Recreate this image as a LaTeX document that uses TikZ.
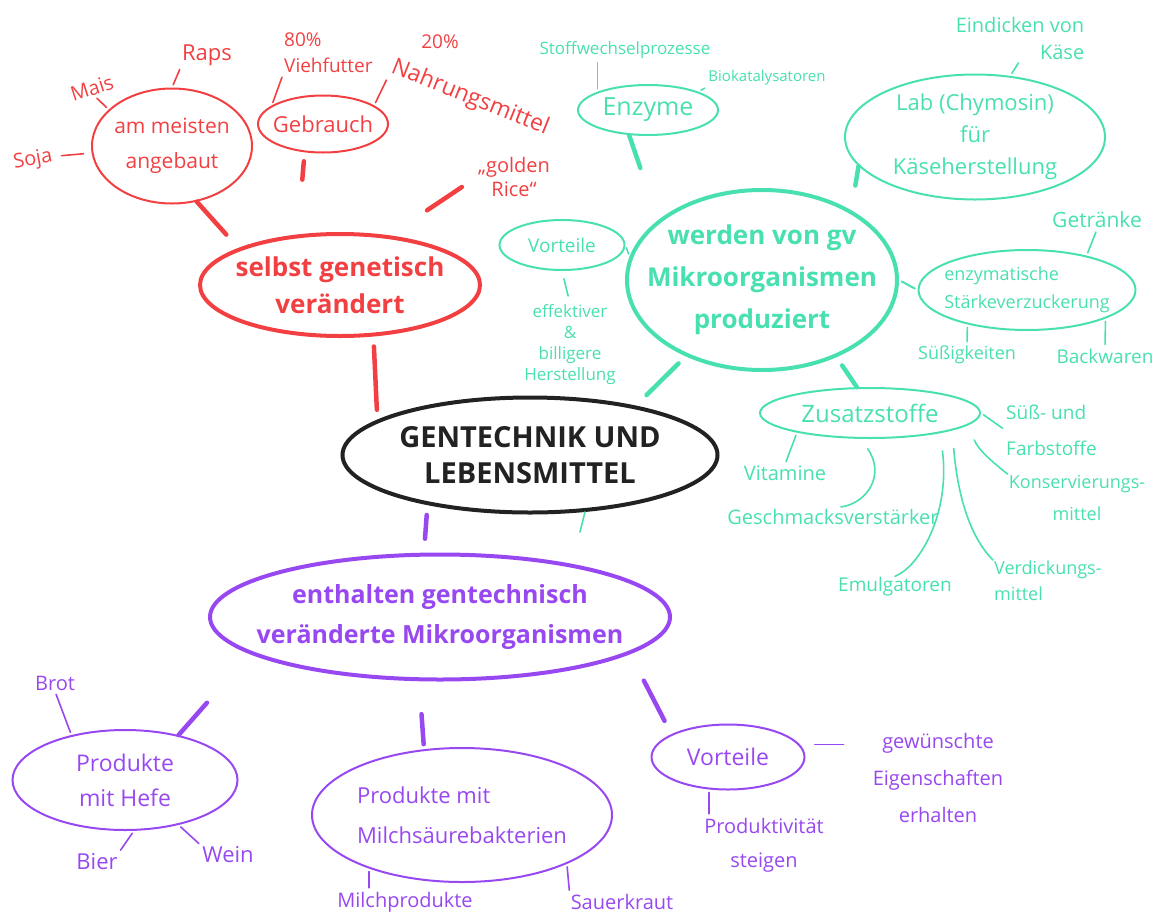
\documentclass[tikz,border=0pt]{standalone}
\usepackage{fontspec}
\setmainfont{Open Sans}
\usetikzlibrary{shapes.geometric}
\definecolor{cR}{RGB}{242,64,66}
\definecolor{cG}{RGB}{72,224,176}
\definecolor{cP}{RGB}{152,72,240}
\definecolor{cK}{RGB}{34,34,34}
\begin{document}
\begin{tikzpicture}[x=1pt,y=-1pt,
  ell/.style={ellipse,draw,inner sep=0pt},
  fs/.style 2 args={font=\fontsize{#1}{#2}\selectfont},
  fsb/.style 2 args={font=\fontsize{#1}{#2}\selectfont\bfseries},
  lbl/.style={inner sep=1pt,align=center},
  mainell/.style={ell,line width=4pt},
  subell/.style={ell,line width=2pt},
  conn/.style={line width=4.5pt,line cap=round},
  tick/.style={line width=1.6pt,line cap=round},
  tk/.style={tick,shorten <=3pt,shorten >=3pt}]
\useasboundingbox (0,0) rectangle (1164,916);

% central
\node[mainell,draw=cK,minimum width=375pt,minimum height=115pt] (c) at (530,455) {};
\node[lbl,text=cK,fsb={29}{36}] (ct) at (c) {GENTECHNIK UND\\LEBENSMITTEL};

% red branch
\node[mainell,draw=cR,minimum width=280pt,minimum height=102pt] (rm) at (340,285) {};
\node[lbl,text=cR,fsb={26}{37}] (rmt) at (rm) {selbst genetisch\\verändert};
\node[subell,draw=cR,minimum width=160pt,minimum height=115pt] (am) at (172,146) {};
\node[lbl,text=cR,fs={21}{35}] (amt) at (am) {am meisten\\angebaut};
\node[subell,draw=cR,minimum width=130pt,minimum height=57pt] (gb) at (323,124) {};
\node[lbl,text=cR,fs={22}{26}] (gbt) at (gb) {Gebrauch};
\node[lbl,text=cR,fs={20}{24},rotate=18] (mais) at (92,88) {Mais};
\node[lbl,text=cR,fs={22}{26}] (raps) at (207,55) {Raps};
\node[lbl,text=cR,fs={20}{24},rotate=10] (soja) at (33,160) {Soja};
\node[lbl,text=cR,fs={19}{26},align=left,anchor=north west] (vf) at (283,32) {80\%\\Viehfutter};
\node[lbl,text=cR,fs={19}{24}] (p20) at (440,42) {20\%};
\node[lbl,text=cR,fs={23}{27},rotate=-22,inner sep=0pt] (nm) at (470,98) {Nahrungsmittel};
\node[lbl,text=cR,fs={20}{24}] (gr) at (514,177) {„golden\\Rice“};

% green branch
\node[mainell,draw=cG,minimum width=270pt,minimum height=180pt] (gm) at (762,280) {};
\node[lbl,text=cG,fsb={26}{42}] (gmt) at (gm) {werden von gv\\Mikroorganismen\\produziert};
\node[subell,draw=cG,minimum width=140pt,minimum height=50pt] (en) at (648,110) {};
\node[lbl,text=cG,fs={25}{28}] (ent) at (en) {Enzyme};
\node[lbl,text=cG,fs={17}{20}] (sw) at (625,50) {Stoffwechselprozesse};
\node[lbl,text=cG,fs={15}{18}] (bk) at (767,78) {Biokatalysatoren};
\node[subell,draw=cG,minimum width=260pt,minimum height=125pt] (lb) at (975,137) {};
\node[lbl,text=cG,fs={22}{32}] (lbt) at (lb) {Lab (Chymosin)\\für\\Käseherstellung};
\node[lbl,text=cG,fs={20}{27},align=right] (ek) at (1020,38) {Eindicken von\\Käse};
\node[subell,draw=cG,minimum width=217pt,minimum height=80pt] (sv) at (1027,290) {};
\node[lbl,text=cG,fs={18}{28},align=left] (svt) at (sv) {enzymatische\\Stärkeverzuckerung};
\node[lbl,text=cG,fs={21}{24}] (gt) at (1097,220) {Getränke};
\node[lbl,text=cG,fs={18}{22}] (sg) at (967,355) {Süßigkeiten};
\node[lbl,text=cG,fs={19}{22}] (bw) at (1105,356) {Backwaren};
\node[subell,draw=cG,minimum width=125pt,minimum height=50pt] (gvo) at (562,245) {};
\node[lbl,text=cG,fs={19}{22}] (gvot) at (gvo) {Vorteile};
\node[lbl,text=cG,fs={17}{21}] (eff) at (570,345) {effektiver\\\&\\billigere\\Herstellung};
\node[subell,draw=cG,minimum width=220pt,minimum height=50pt] (zs) at (870,413) {};
\node[lbl,text=cG,fs={24}{28}] (zst) at (zs) {Zusatzstoffe};
\node[lbl,text=cG,fs={19}{36},align=left,anchor=west] (sf) at (1005,430) {Süß- und\\Farbstoffe};
\node[lbl,text=cG,fs={18}{32}] (ko) at (1077,498) {Konservierungs-\\mittel};
\node[lbl,text=cG,fs={18}{26},align=left,anchor=north west] (vd) at (993,560) {Verdickungs-\\mittel};
\node[lbl,text=cG,fs={19}{22}] (emu) at (895,587) {Emulgatoren};
\node[lbl,text=cG,fs={20}{24}] (gs) at (833,517) {Geschmacksverstärker};
\node[lbl,text=cG,fs={20}{24}] (vit) at (785,473) {Vitamine};
\coordinate (gstray) at (580,532);

% purple branch
\node[mainell,draw=cP,minimum width=460pt,minimum height=125pt] (pm) at (440,617) {};
\node[lbl,text=cP,fsb={25}{40}] (pmt) at (pm) {enthalten gentechnisch\\veränderte Mikroorganismen};
\node[subell,draw=cP,minimum width=225pt,minimum height=100pt] (ph) at (125,780) {};
\node[lbl,text=cP,fs={23}{35}] (pht) at (ph) {Produkte\\mit Hefe};
\node[subell,draw=cP,minimum width=300pt,minimum height=134pt] (pms) at (462,815) {};
\node[lbl,text=cP,fs={22}{40},align=left] (pmst) at (pms) {Produkte mit\\Milchsäurebakterien};
\node[subell,draw=cP,minimum width=153pt,minimum height=65pt] (pvo) at (728,757) {};
\node[lbl,text=cP,fs={23}{26}] (pvot) at (pvo) {Vorteile};
\node[lbl,text=cP,fs={20}{24}] (brot) at (55,683) {Brot};
\node[lbl,text=cP,fs={22}{26}] (bier) at (97,862) {Bier};
\node[lbl,text=cP,fs={22}{26}] (wein) at (228,855) {Wein};
\node[lbl,text=cP,fs={20}{24}] (mp) at (405,902) {Milchprodukte};
\node[lbl,text=cP,fs={20}{24}] (sk) at (622,902) {Sauerkraut};
\node[lbl,text=cP,fs={20}{37}] (gw) at (938,778) {gewünschte\\Eigenschaften\\erhalten};
\node[lbl,text=cP,fs={20}{34}] (pr) at (764,845) {Produktivität\\steigen};

% main connectors
\draw[conn,cR,shorten <=10pt,shorten >=10pt] (rm.-57) -- (c.167);
\draw[conn,cG,shorten <=10pt,shorten >=15pt] (gm.-135) -- (c.25);
\draw[conn,cP,shorten <=10pt,shorten >=14pt] (c.-154) -- (pm.104);
\draw[tick,cG] (c.-46) -- (gstray);

% red connectors
\draw[conn,cR,shorten >=18pt] (am.-66) -- (rm.160);
\draw[conn,cR,shorten <=9pt,shorten >=55pt] (gb.-123) -- (rm.130);
\draw[conn,cR,shorten <=18pt,shorten >=45pt] (gr.west) -- (rm.45);
\draw[tk,cR,shorten <=8pt,shorten >=8pt] (soja.east) -- (am.185);
\draw[tk,cR] (mais.south) -- (am.150);
\draw[tk,cR] (raps.south west) -- (am.90);
\draw[tk,cR] (vf.south west) -- (gb.160);
\draw[tk,cR] (nm.south west) -- (gb.20);

% green connectors
\draw[conn,cG,shorten >=55pt] (en.-127) -- (gm.150);
\draw[conn,cG,shorten >=25pt] (lb.-166) -- (gm.38);
\draw[tk,cG,line width=2pt] (gm.east) -- (sv.west);
\draw[tk,cG] (gvo.east) -- (gm.170);
\draw[conn,cG,shorten <=10pt] (gm.-46) -- (zs.117);
\draw[tk,cG] (sw.south -| en.160) -- (en.160);
\draw[tk,cG] (bk.south west) -- (en.20);
\draw[tk,cG] (ek.south) -- (lb.60);
\draw[tk,cG] (gt.south) -- (sv.30);
\draw[tk,cG] (sg.north) -- (sv.-150);
\draw[tk,cG] (bw.north) -- (sv.-20);
\draw[tk,cG,shorten <=8pt,shorten >=8pt] (gvo.south) -- (eff.north);
\draw[tk,cG] (zs.east) -- (sf.west);
\draw[tick,cG,shorten <=16pt] (zs.-7) .. controls +(10,25) and +(-15,-12) .. (ko.north west);
\draw[tick,cG,shorten <=18pt] (zs.-12) .. controls +(5,60) and +(-25,-25) .. (vd.north west);
\draw[tick,cG,shorten <=18pt] (zs.-16) .. controls +(10,80) and +(25,-10) .. (emu.north);
\draw[tick,cG,shorten <=12pt,shorten >=8pt] (zs.-110) .. controls +(25,35) and +(35,-5) .. (gs.north);
\draw[tk,cG] (vit.north) -- (zs.-165);

% purple connectors
\draw[conn,cP,shorten <=65pt] (pm.-169) -- (ph.40);
\draw[conn,cP,shorten <=33pt,shorten >=5pt] (pm.-108) -- (pms.120);
\draw[conn,cP,shorten <=30pt,shorten >=15pt] (pm.-11) -- (pvo.158);
\draw[tk,cP] (brot.south) -- (ph.140);
\draw[tk,cP] (bier.north east) -- (ph.-80);
\draw[tk,cP] (wein.north west) -- (ph.-40);
\draw[tk,cP] (mp.north -| pms.-150) -- (pms.-150);
\draw[tk,cP] (sk.north west) -- (pms.-25);
\draw[tk,cP,shorten <=15pt,shorten >=28pt] (pvo.10) -- (gw.west |- pvo.10);
\draw[tk,cP] (pr.north -| pvo.-120) -- (pvo.-120);
\end{tikzpicture}
\end{document}
